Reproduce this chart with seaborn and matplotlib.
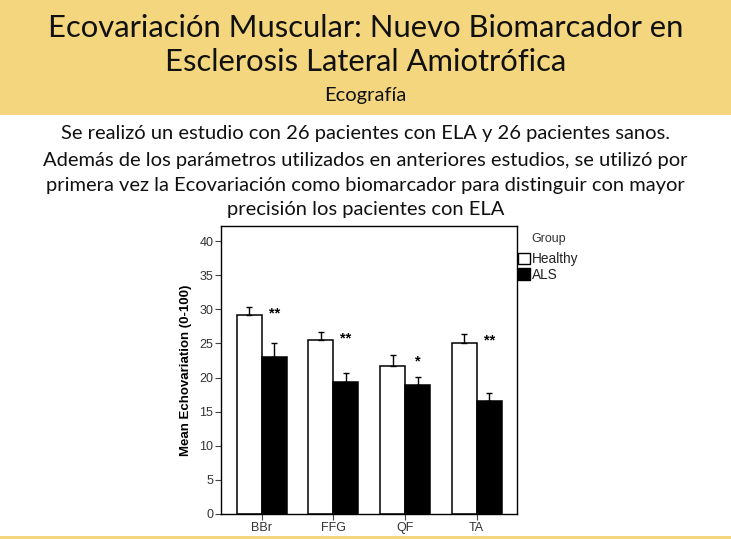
import matplotlib
matplotlib.use("Agg")
import matplotlib.pyplot as plt
from matplotlib.patches import Rectangle, Patch
import seaborn as sns
import pandas as pd

# ---- data ----
muscles = ["BBr", "FFG", "QF", "TA"]
groups = ["Healthy", "ALS"]
healthy_mean = [29.2, 25.5, 21.7, 25.0]
healthy_err = [1.2, 1.2, 1.6, 1.4]
als_mean = [23.0, 19.3, 18.9, 16.5]
als_err = [2.1, 1.4, 1.2, 1.3]
significance = ["**", "**", "*", "**"]
yticks = [0, 5, 10, 15, 20, 25, 30, 35, 40]

title_lines = ["Ecovariación Muscular: Nuevo Biomarcador en",
               "Esclerosis Lateral Amiotrófica"]
subtitle = "Ecografía"
body_lines = ["Se realizó un estudio con 26 pacientes con ELA y 26 pacientes sanos.",
              "Además de los parámetros utilizados en anteriores estudios, se utilizó por",
              "primera vez la Ecovariación como biomarcador para distinguir con mayor",
              "precisión los pacientes con ELA"]
ylabel = "Mean Echovariation (0-100)"

df = pd.DataFrame({
    "Muscle": muscles * 2,
    "Group": ["Healthy"] * len(muscles) + ["ALS"] * len(muscles),
    "Value": healthy_mean + als_mean,
})

sns.set_theme(style="white")
plt.rcParams["font.family"] = ["Liberation Sans", "DejaVu Sans"]

W, H = 731, 539
fig = plt.figure(figsize=(W / 100, H / 100), dpi=100)
fig.patch.set_facecolor("white")

band = "#F3D67D"
fig.patches.append(Rectangle((0, 1 - 115 / H), 1, 115 / H, transform=fig.transFigure,
                             facecolor=band, edgecolor="none", zorder=0))
fig.patches.append(Rectangle((0, 0), 1, 3 / H, transform=fig.transFigure,
                             facecolor=band, edgecolor="none", zorder=0))

head_font = ["Lato", "DejaVu Sans"]
fig.text(0.5, 1 - 28 / H, title_lines[0], ha="center", va="center",
         fontsize=22.3, family=head_font, color="#111111")
fig.text(0.5, 1 - 62 / H, title_lines[1], ha="center", va="center",
         fontsize=22.3, family=head_font, color="#111111")
fig.text(0.5, 1 - 96 / H, subtitle, ha="center", va="center",
         fontsize=14.5, family=head_font, color="#111111")
for line, yc in zip(body_lines, [134, 160, 185, 210]):
    fig.text(0.5, 1 - yc / H, line, ha="center", va="center",
             fontsize=14.5, family=head_font, color="#111111")

ax = fig.add_axes([221 / W, 1 - 514 / H, (517 - 221) / W, (514 - 226) / H])
sns.barplot(data=df, x="Muscle", y="Value", hue="Group", hue_order=groups,
            order=muscles, palette={"Healthy": "white", "ALS": "black"},
            edgecolor="black", linewidth=1.1, errorbar=None, width=0.7,
            legend=False, saturation=1, ax=ax)

for cont, means, errs in zip(ax.containers, [healthy_mean, als_mean], [healthy_err, als_err]):
    xs = [b.get_x() + b.get_width() / 2 for b in cont]
    ax.errorbar(xs, means, yerr=[[0] * len(errs), errs], fmt="none",
                ecolor="black", elinewidth=1.0, capsize=2.2, capthick=1.0, zorder=3)

als_x = [b.get_x() + b.get_width() / 2 for b in ax.containers[1]]
for x, m, e, s in zip(als_x, healthy_mean, healthy_err, significance):
    ax.text(x, m + e - 1.6, s, ha="center", va="baseline", fontsize=10.5,
            fontweight="bold", color="black")

ax.set_xlim(-0.568, 3.562)
ax.set_ylim(0, 42.2)
ax.set_yticks(yticks)
ax.set_yticklabels([str(t) for t in yticks])
ax.set_xlabel("")
ax.set_ylabel(ylabel, fontsize=9.5, fontweight="bold", color="black")
ax.yaxis.set_label_coords(-0.097, 0.5)
ax.tick_params(axis="both", direction="out", length=4, width=0.8, color="#444444",
               labelsize=9, labelcolor="#333333", pad=1.5, left=True, bottom=True)
for sp in ax.spines.values():
    sp.set_visible(True)
    sp.set_color("black")
    sp.set_linewidth(1.0)
ax.set_facecolor("white")

fig.text(531 / W, 1 - 239 / H, "Group", ha="left", va="center", fontsize=9, color="#333333")
handles = [Patch(facecolor="white", edgecolor="black", linewidth=1.0),
           Patch(facecolor="black", edgecolor="black", linewidth=1.0)]
ax.legend(handles, groups, loc="upper left", bbox_to_anchor=(518 / W, 1 - 252 / H),
          bbox_transform=fig.transFigure, frameon=False, handlelength=0.9,
          handleheight=0.9, handletextpad=0.1, labelspacing=0.12, borderpad=0,
          borderaxespad=0, fontsize=9.8, labelcolor="#222222")

fig.savefig("out.png", dpi=100)
